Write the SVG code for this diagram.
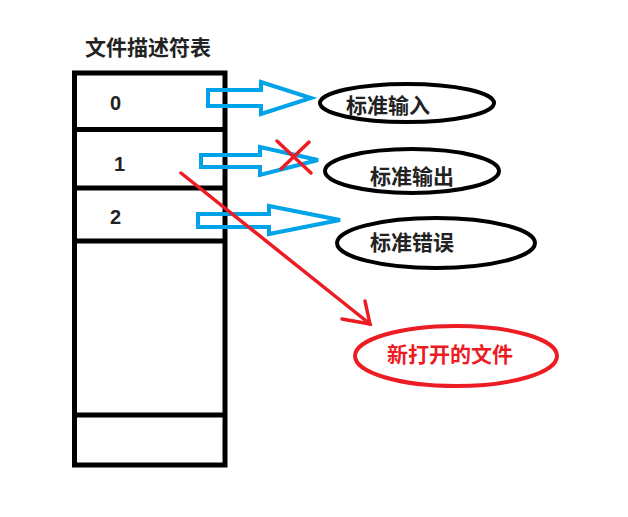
<svg xmlns="http://www.w3.org/2000/svg" width="628" height="517" viewBox="0 0 628 517">
<style>
.cjk{font-family:"Noto Sans CJK SC","Noto Sans",sans-serif;font-weight:bold;font-size:21px;fill:#222}
.num{font-family:"Liberation Sans",Arial,sans-serif;font-weight:bold;font-size:20px;fill:#222}
.tbl{fill:none;stroke:#000;stroke-width:5}
.blue{fill:none;stroke:#00a2e8;stroke-width:4;stroke-linejoin:miter}
.ell{fill:#fff;stroke:#000;stroke-width:4}
.red{stroke:#ed1c24;stroke-width:3.5;fill:none;stroke-linecap:round}
</style>
<rect width="628" height="517" fill="#fff"/>
<g id="table">
<text class="cjk" x="85" y="55">文件描述符表</text>
<rect class="tbl" x="74.5" y="73" width="150.5" height="392"/>
<line class="tbl" x1="74.5" y1="129.5" x2="225" y2="129.5"/>
<line class="tbl" x1="74.5" y1="188" x2="225" y2="188"/>
<line class="tbl" x1="74.5" y1="241" x2="225" y2="241"/>
<line class="tbl" x1="74.5" y1="415" x2="225" y2="415"/>
<text class="num" x="110" y="110">0</text>
<text class="num" x="114" y="171">1</text>
<text class="num" x="110" y="224">2</text>
</g>
<g id="stdin">
<ellipse class="ell" cx="407" cy="103" rx="87" ry="19"/>
<text class="cjk" x="346" y="113">标准输入</text>
</g>
<g id="stdout">
<ellipse class="ell" cx="412" cy="171" rx="87" ry="22"/>
<text class="cjk" x="370" y="184">标准输出</text>
</g>
<g id="stderr">
<ellipse class="ell" cx="436" cy="243" rx="99" ry="25"/>
<text class="cjk" x="370" y="250">标准错误</text>
</g>
<g id="newfile">
<ellipse cx="456" cy="356" rx="101" ry="30" fill="#fff" stroke="#ed1c24" stroke-width="4"/>
<text class="cjk" x="387" y="362" style="fill:#ed1c24">新打开的文件</text>
</g>
<g id="connectors">
<polygon class="blue" points="208,90 261,90 261,82 311,98 261,114 261,106 208,106"/>
<polygon class="blue" points="201,155 260,155 260,147 318,160 260,175 260,167 201,167"/>
<polygon class="blue" points="198,214 269,214 269,206 340,220 269,234 269,227 198,227"/>
<line class="red" x1="277" y1="141" x2="311" y2="173"/>
<line class="red" x1="309" y1="142" x2="281" y2="169"/>
<line class="red" x1="181" y1="173" x2="370" y2="324"/>
<polyline class="red" points="365,301 370,324 342,319"/>
</g>
</svg>
